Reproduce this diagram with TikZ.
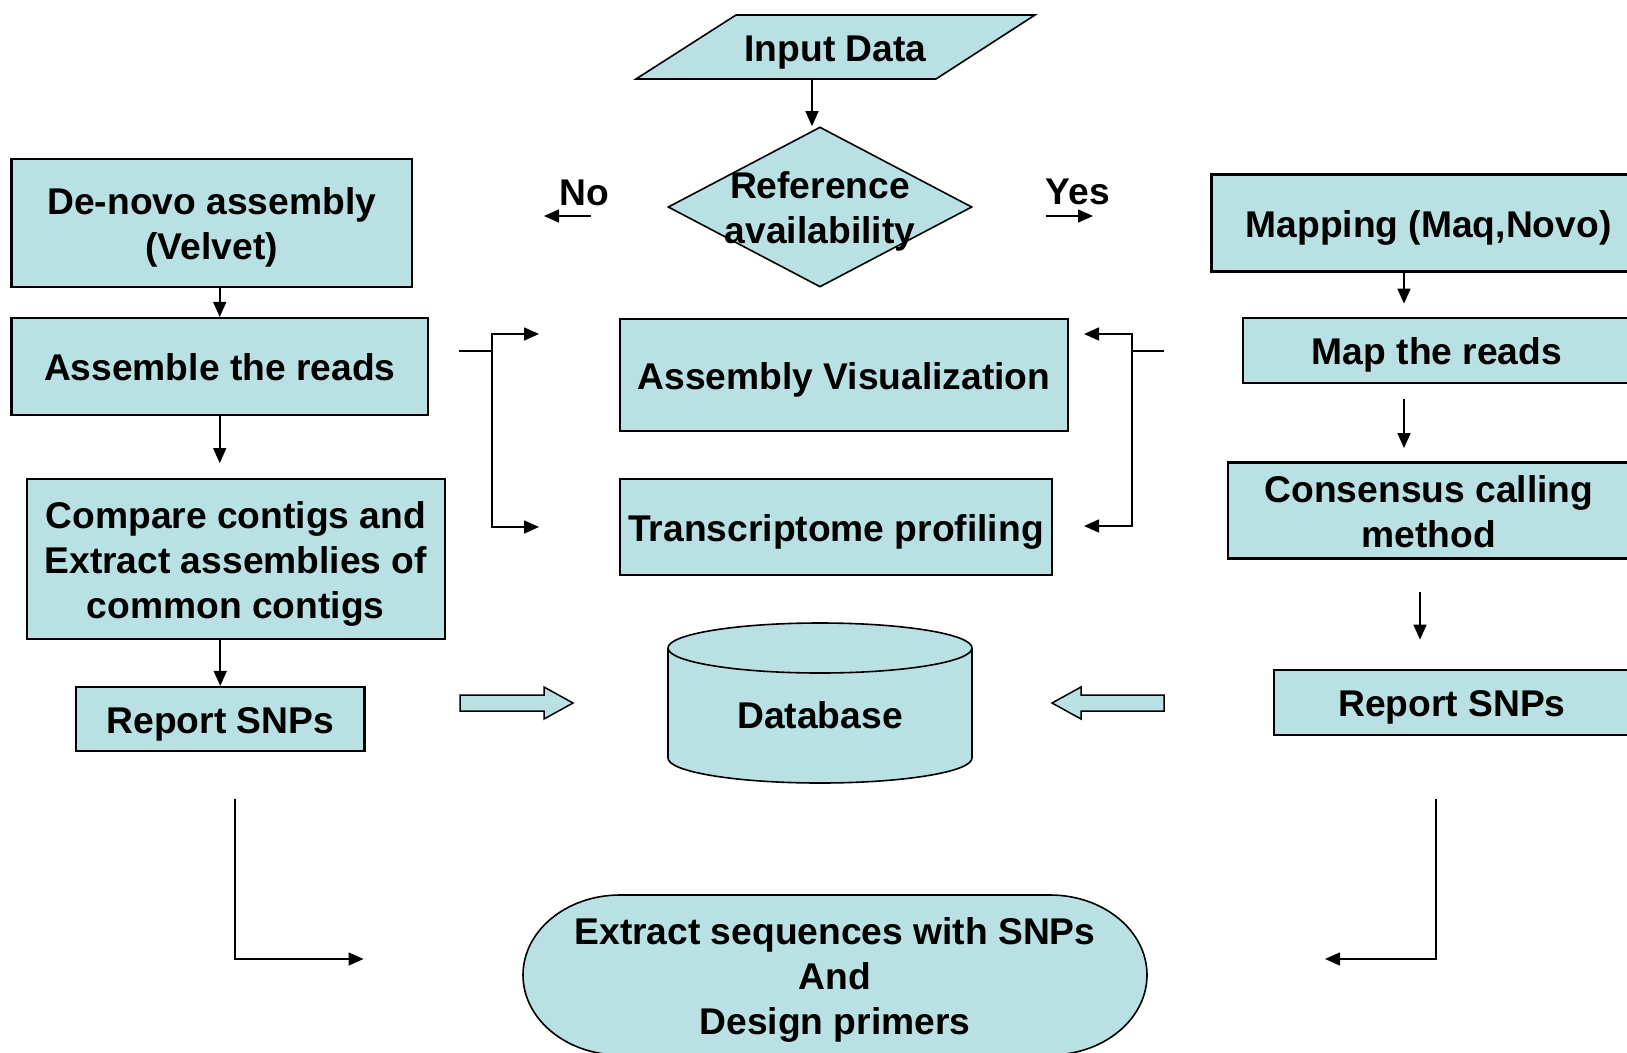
\documentclass[tikz,border=0pt]{standalone}
\usepackage{fontspec}
\setmainfont{Liberation Sans}
\usetikzlibrary{shapes.geometric,arrows.meta}
\definecolor{boxfill}{RGB}{185,224,227}
\newcommand\flowfont{\fontsize{37.2}{45}\selectfont\bfseries}

\begin{document}
\begin{tikzpicture}[x=1pt,y=-1pt,
  box/.style={rectangle,draw=black,line width=2.2pt,fill=boxfill,inner sep=0pt,
              align=center,font=\flowfont,text height=35.7pt,text depth=7.4pt},
  blankbox/.style={rectangle,draw=black,line width=2.2pt,fill=boxfill,inner sep=0pt},
  shapeline/.style={draw=black,line width=1.6pt,fill=boxfill},
  txt/.style={inner sep=0pt,align=center,font=\flowfont},
  holder/.style={rectangle,inner sep=0pt,align=center,font=\flowfont,
                 text height=35.7pt,text depth=7.4pt},
  conn/.style={line width=1.6pt},
  arr/.style={line width=1.6pt,-{Triangle[length=15pt,width=13pt]}},
  blockarrow/.style={draw=black,line width=1.5pt,fill=boxfill,line join=miter}
]
\useasboundingbox (0,0) rectangle (1627,1052);
\clip (0,0) rectangle (1627,1052);
\fill[white] (0,0) rectangle (1627,1052);

% ---------- input (parallelogram) ----------
\path[shapeline] (636,79) -- (736,15) -- (1035,15) -- (936,79) -- cycle;
\node[holder,minimum width=300pt,minimum height=64pt] (input) at (835.5,47) {Input Data};

% ---------- decision ----------
\node[diamond,shapeline,inner sep=0pt,minimum width=304pt,minimum height=160pt] (ref) at (820,207) {};
\node[txt] (reftext) at (820,211.5) {Reference\\availability};

\node[txt] (no)  at (584,193) {No};
\node[txt] (yes) at (1078,192) {Yes};
\coordinate (noA)  at (591,216);
\coordinate (noB)  at (544,216);
\coordinate (yesA) at (1046,216);
\coordinate (yesB) at (1093,216);

% ---------- de-novo branch ----------
\node[blankbox,minimum width=400.5pt,minimum height=128pt] (denovo) at (211.75,223) {};
\node[txt] (denovotext) at (211.75,227) {De-novo assembly\\(Velvet)};
\node[box,minimum width=416.5pt,minimum height=97pt] (assemble) at (219.75,366.5) {Assemble the reads};
\node[blankbox,minimum width=417.6pt,minimum height=160pt] (compare) at (235.8,558.8) {};
\node[txt] (comparetext) at (235.8,564) {Compare contigs and\\Extract assemblies of\\common contigs};
\node[box,minimum width=288.5pt,minimum height=64pt] (reportL) at (220.25,719) {Report SNPs};

% ---------- mapping branch ----------
\node[box,minimum width=434pt,minimum height=97pt] (mapping)  at (1428.5,223) {Mapping (Maq,Novo)};
\node[box,minimum width=388pt,minimum height=65pt] (mapreads) at (1437,350.5) {Map the reads};
\node[blankbox,minimum width=406pt,minimum height=96pt] (consensus) at (1431,510.5) {};
\node[txt] (consensustext) at (1429,511.5) {Consensus calling\\method};
\node[box,minimum width=356pt,minimum height=65pt] (reportR) at (1452,702.5) {Report SNPs};

% ---------- shared results ----------
\node[box,minimum width=448pt,minimum height=112pt] (vis)  at (844,375) {Assembly Visualization};
\node[box,minimum width=432pt,minimum height=96pt]  (prof) at (836,527) {Transcriptome profiling};

% database cylinder
\path[shapeline] (668,648) -- (668,758)
  arc[start angle=180,end angle=360,x radius=152pt,y radius=25pt]
  -- (972,648)
  arc[start angle=0,end angle=180,x radius=152pt,y radius=25pt] -- cycle;
\draw[line width=1.6pt] (668,648) arc[start angle=180,end angle=360,x radius=152pt,y radius=25pt];
\node[holder,minimum width=304pt,minimum height=110pt] (db) at (820,714) {Database};

% terminal
\path[shapeline] (620,895) -- (1050,895)
  arc[start angle=90,end angle=-90,x radius=97pt,y radius=80pt]
  -- (620,1055)
  arc[start angle=270,end angle=90,x radius=97pt,y radius=80pt] -- cycle;
\node[txt] (extract) at (835,980) {Extract sequences with SNPs\\And\\Design primers};

% block arrows into the database
\path[blockarrow] (460,695) -- (544,695) -- (544,687) -- (573,703) -- (544,719) -- (544,711) -- (460,711) -- cycle;
\path[blockarrow] (1164,695) -- (1081,695) -- (1081,687) -- (1052,703) -- (1081,719) -- (1081,711) -- (1164,711) -- cycle;

% ---------- connectors ----------
\coordinate (inA) at ([xshift=-23.5pt]input.south);
\draw[arr] (inA) -- (inA |- ref.north);

\draw[arr] (noA) -- (noB);
\draw[arr] (yesA) -- (yesB);

\draw[arr] (assemble.north |- denovo.south) -- (assemble.north);
\draw[arr] (assemble.south) -- ++(0,47);
\draw[arr] (reportL.north |- compare.south) -- (reportL.north);

\coordinate (mA) at ([xshift=-24.5pt]mapping.south);
\draw[arr] (mA) -- ++(0,31);
\coordinate (mB) at ([shift={(-33pt,-15pt)}]mapreads.south);
\draw[arr] (mB) -- ++(0,49);
\coordinate (mC) at ([shift={(-11pt,-32pt)}]consensus.south);
\draw[arr] (mC) -- ++(0,48);

% left fork to the shared results
\coordinate (lfA) at (459,351);
\coordinate (lfB) at (492,351);
\coordinate (lfTop) at (539,334);
\coordinate (lfBot) at (539,527);
\draw[conn] (lfA) -- (lfB);
\draw[arr] (lfB) |- (lfTop);
\draw[arr] (lfB) |- (lfBot);

% right fork to the shared results
\coordinate (rfA) at (1164,351);
\coordinate (rfB) at (1132,351);
\coordinate (rfTop) at (1084,334);
\coordinate (rfBot) at (1084,526);
\draw[conn] (rfA) -- (rfB);
\draw[arr] (rfB) |- (rfTop);
\draw[arr] (rfB) |- (rfBot);

% elbows towards the terminal
\coordinate (lbA) at (235,799);
\coordinate (lbB) at (363.5,959);
\coordinate (rbA) at (1436,799);
\coordinate (rbB) at (1325,959);
\draw[arr] (lbA) |- (lbB);
\draw[arr] (rbA) |- (rbB);
\end{tikzpicture}
\end{document}
